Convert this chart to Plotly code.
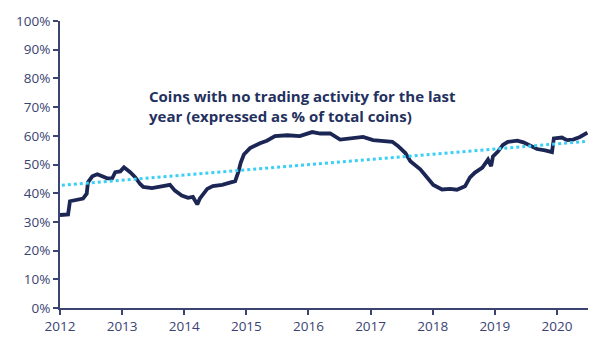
import plotly.graph_objects as go

years = [2012.00, 2012.13, 2012.16, 2012.32, 2012.37, 2012.43, 2012.45, 2012.52, 2012.60, 2012.68,
         2012.76, 2012.84, 2012.89, 2012.97, 2013.03, 2013.13, 2013.21, 2013.29, 2013.34, 2013.48,
         2013.64, 2013.77, 2013.85, 2013.96, 2014.06, 2014.14, 2014.21, 2014.25, 2014.37, 2014.46,
         2014.61, 2014.74, 2014.82, 2014.87, 2014.91, 2014.96, 2015.06, 2015.22, 2015.33, 2015.46,
         2015.66, 2015.86, 2016.06, 2016.19, 2016.35, 2016.51, 2016.67, 2016.88, 2017.04, 2017.20,
         2017.35, 2017.44, 2017.56, 2017.64, 2017.80, 2017.91, 2018.01, 2018.15, 2018.28, 2018.39,
         2018.52, 2018.60, 2018.68, 2018.80, 2018.89, 2018.94, 2018.97, 2019.05, 2019.13, 2019.21,
         2019.36, 2019.46, 2019.57, 2019.68, 2019.81, 2019.92, 2019.95, 2020.08, 2020.16, 2020.26,
         2020.37, 2020.49]
pct_dormant = [32.4, 32.6, 37.2, 37.9, 38.1, 39.8, 43.8, 45.9, 46.6, 45.9,
               45.2, 45.2, 47.3, 47.6, 49.0, 47.3, 45.6, 43.2, 42.2, 41.8,
               42.5, 42.9, 40.9, 39.2, 38.4, 38.7, 36.1, 38.1, 41.5, 42.5,
               42.9, 43.9, 44.2, 47.3, 50.7, 53.5, 55.7, 57.4, 58.3, 59.9,
               60.2, 59.9, 61.3, 60.8, 60.8, 58.7, 59.1, 59.6, 58.5, 58.3,
               57.9, 56.5, 54.0, 51.1, 48.3, 45.5, 42.9, 41.3, 41.5, 41.2,
               42.4, 45.5, 47.2, 48.9, 51.7, 49.4, 52.8, 54.5, 56.8, 57.9,
               58.3, 57.7, 56.5, 55.4, 54.9, 54.3, 59.1, 59.4, 58.5, 58.7,
               59.6, 61.1]

trend_years = [2012.03, 2020.45]
trend_values = [42.8, 58.0]

x_ticks = [2012, 2013, 2014, 2015, 2016, 2017, 2018, 2019, 2020]
x_tick_labels = ["2012", "2013", "2014", "2015", "2016", "2017", "2018", "2019", "2020"]
y_ticks = [0, 10, 20, 30, 40, 50, 60, 70, 80, 90, 100]
y_tick_labels = ["0%", "10%", "20%", "30%", "40%", "50%", "60%", "70%", "80%", "90%", "100%"]

title_text = "Coins with no trading activity for the last<br>year (expressed as % of total coins)"

navy = "#1b2654"
axis_col = "#3b4373"
tick_font = dict(family="Open Sans, sans-serif", size=13.5, color=axis_col)

fig = go.Figure()
fig.add_trace(go.Scatter(x=years, y=pct_dormant, mode="lines",
                         line=dict(color=navy, width=3.8), showlegend=False))
fig.add_trace(go.Scatter(x=trend_years, y=trend_values, mode="lines",
                         line=dict(color="#3ccff5", width=3, dash="3px,3px"), showlegend=False))

fig.update_layout(
    width=602, height=347,
    margin=dict(l=60, r=14, t=18, b=35),
    paper_bgcolor="white", plot_bgcolor="white",
    font=dict(family="Open Sans, sans-serif", color=axis_col, size=13),
    xaxis=dict(range=[2012, 2020.5], tickvals=x_ticks, ticktext=x_tick_labels,
               showgrid=False, zeroline=False, showline=True, linecolor=axis_col, linewidth=2,
               ticks="outside", ticklen=5, tickwidth=2, tickcolor=axis_col,
               tickfont=tick_font),
    yaxis=dict(range=[0, 100], tickvals=y_ticks, ticktext=y_tick_labels,
               showgrid=False, zeroline=False, showline=True, linecolor=axis_col, linewidth=2,
               ticks="outside", ticklen=5, tickwidth=2, tickcolor=axis_col,
               tickfont=tick_font),
    annotations=[dict(text=title_text, xref="paper", yref="paper", x=0.165, y=0.779,
                      xanchor="left", yanchor="top", align="left", showarrow=False,
                      font=dict(family="Open Sans, sans-serif", size=15, color="#24305e",
                                weight="bold"))],
)

fig.write_html("out.html")
